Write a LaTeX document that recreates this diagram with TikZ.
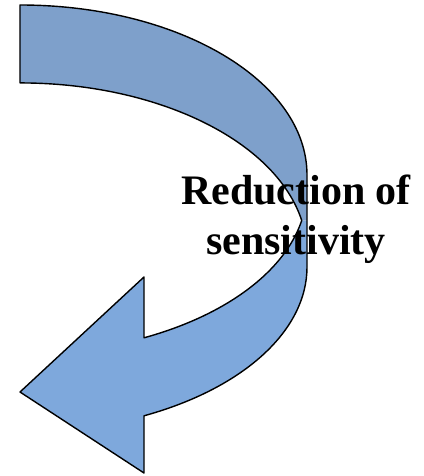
\documentclass[tikz,border=0pt]{standalone}
\usepackage{fontspec}
\setmainfont{Liberation Serif}
\usepackage{tikz}
\usetikzlibrary{positioning}
\definecolor{arrowdark}{RGB}{126,160,203}
\definecolor{arrowlight}{RGB}{126,168,220}

\begin{document}
\begin{tikzpicture}[
    x=1pt, y=-1pt,
    backface/.style={fill=arrowdark, draw=none},
    frontface/.style={fill=arrowlight, draw=none},
    rim/.style={draw=black, line width=1.4pt, line join=round},
    lab/.style={font=\fontsize{42}{50}\selectfont\bfseries, align=center, inner sep=0pt, text=black}
  ]
    \useasboundingbox (0,0) rectangle (423,476);

    % back of the band (upper part)
    \fill[backface] (20,5) arc[start angle=-90, end angle=0, x radius=287, y radius=170]
      -- (307,220.5) -- (301.7,220.5)
      arc[start angle=-11, end angle=-90, x radius=287, y radius=170] -- cycle;

    % front of the band and the head
    \fill[frontface] (301.7,220.5) -- (307,220.5) -- (307,267)
      arc[start angle=0, end angle=64.4, x radius=287, y radius=165]
      -- (144,473) -- (20,392) -- (144,277) -- (144,337.8)
      arc[start angle=64.4, end angle=11, x radius=287, y radius=165] -- cycle;

    \draw[rim] (20,83) -- (20,5)
      arc[start angle=-90, end angle=0, x radius=287, y radius=170]
      -- (307,267)
      arc[start angle=0, end angle=64.4, x radius=287, y radius=165]
      -- (144,473) -- (20,392) -- (144,277) -- (144,337.8)
      arc[start angle=64.4, end angle=11, x radius=287, y radius=165]
      arc[start angle=-11, end angle=-90, x radius=287, y radius=170] -- cycle;

    \node[lab] (caption) at (296,219) {Reduction of\\sensitivity};
  \end{tikzpicture}
\end{document}
